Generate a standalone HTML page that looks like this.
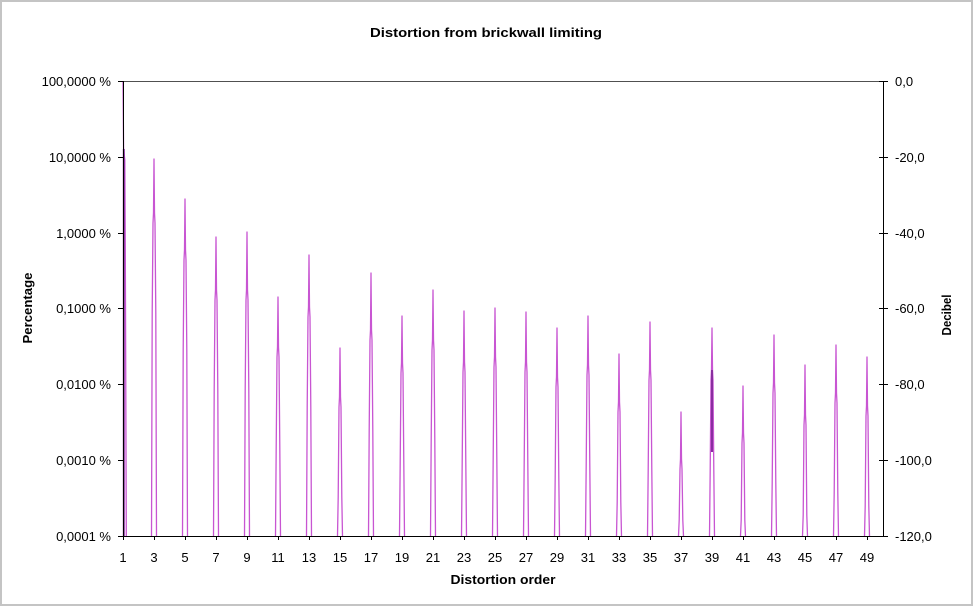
<!DOCTYPE html>
<html>
<head>
<meta charset="utf-8">
<style>
  html,body{margin:0;padding:0;background:#fff;}
  svg{display:block;}
  text{font-family:"Liberation Sans",Arial,sans-serif;fill:#000;}
  .t{font-size:13px;}
  .b{font-weight:bold;font-size:12.5px;}
</style>
</head>
<body>
<svg width="975" height="607" viewBox="0 0 975 607" xmlns="http://www.w3.org/2000/svg">
  <rect x="0" y="0" width="975" height="607" fill="#fff"/>
  <rect x="1" y="1" width="971" height="604" fill="none" stroke="#c4c4c4" stroke-width="2"/>

  <text class="b" x="486" y="37" text-anchor="middle" textLength="232" lengthAdjust="spacingAndGlyphs">Distortion from brickwall limiting</text>

  <line x1="123" y1="81.5" x2="883" y2="81.5" stroke="#505050" stroke-width="1"/>

  <g fill="none" stroke="#c855d2" stroke-width="1.3" stroke-linejoin="round">
    <path d="M123 81 L123.6 149 L124.8 160 L125.3 250 L126.3 536"/>
    <path d="M151.5 536 L152.2 313 L153 223 L153.5 213 L154 159 L154.5 213 L155 223 L155.8 313 L156.5 536"/>
    <path d="M182.5 536 L183.2 350 L184 260 L184.5 250 L185 199 L185.5 250 L186 260 L186.8 350 L187.5 536"/>
    <path d="M213.5 536 L214.2 390 L215 300 L215.5 290 L216 237 L216.5 290 L217 300 L217.8 390 L218.5 536"/>
    <path d="M244.5 536 L245.2 390 L246 300 L246.5 290 L247 232 L247.5 290 L248 300 L248.8 390 L249.5 536"/>
    <path d="M275.5 536 L276.2 447 L277 357 L277.5 347 L278 297 L278.5 347 L279 357 L279.8 447 L280.5 536"/>
    <path d="M306.5 536 L307.2 407 L308 317 L308.5 307 L309 255 L309.5 307 L310 317 L310.8 407 L311.5 536"/>
    <path d="M337.5 536 L338.2 497 L339 407 L339.5 397 L340 348 L340.5 397 L341 407 L341.8 497 L342.5 536"/>
    <path d="M368.5 536 L369.2 430 L370 340 L370.5 330 L371 273 L371.5 330 L372 340 L372.8 430 L373.5 536"/>
    <path d="M399.5 536 L400.2 463 L401 373 L401.5 363 L402 316 L402.5 363 L403 373 L403.8 463 L404.5 536"/>
    <path d="M430.5 536 L431.2 440 L432 350 L432.5 340 L433 290 L433.5 340 L434 350 L434.8 440 L435.5 536"/>
    <path d="M461.5 536 L462.2 462 L463 372 L463.5 362 L464 311 L464.5 362 L465 372 L465.8 462 L466.5 536"/>
    <path d="M492.5 536 L493.2 457 L494 367 L494.5 357 L495 308 L495.5 357 L496 367 L496.8 457 L497.5 536"/>
    <path d="M523.5 536 L524.2 462 L525 372 L525.5 362 L526 312 L526.5 362 L527 372 L527.8 462 L528.5 536"/>
    <path d="M554.5 536 L555.2 477 L556 387 L556.5 377 L557 328 L557.5 377 L558 387 L558.8 477 L559.5 536"/>
    <path d="M585.5 536 L586.2 465 L587 375 L587.5 365 L588 316 L588.5 365 L589 375 L589.8 465 L590.5 536"/>
    <path d="M616.5 536 L617.2 502 L618 412 L618.5 402 L619 354 L619.5 402 L620 412 L620.8 502 L621.5 536"/>
    <path d="M647.5 536 L648.2 470 L649 380 L649.5 370 L650 322 L650.5 370 L651 380 L651.8 470 L652.5 536"/>
    <path d="M678.5 536 L679.2 520 L680 469 L680.5 459 L681 412 L681.5 459 L682 469 L682.8 520 L683.5 536"/>
    <path d="M709.5 536 L710.2 470 L711 380 L711.5 370 L712 328 L712.5 370 L713 380 L713.8 470 L714.5 536"/>
    <path d="M740.5 536 L741.2 520 L742 443 L742.5 433 L743 386 L743.5 433 L744 443 L744.8 520 L745.5 536"/>
    <path d="M771.5 536 L772.2 483 L773 393 L773.5 383 L774 335 L774.5 383 L775 393 L775.8 483 L776.5 536"/>
    <path d="M802.5 536 L803.2 515 L804 425 L804.5 415 L805 365 L805.5 415 L806 425 L806.8 515 L807.5 536"/>
    <path d="M833.5 536 L834.2 493 L835 403 L835.5 393 L836 345 L836.5 393 L837 403 L837.8 493 L838.5 536"/>
    <path d="M864.5 536 L865.2 506 L866 416 L866.5 406 L867 357 L867.5 406 L868 416 L868.8 506 L869.5 536"/>
  </g>
  <g stroke="#8a2ea0" stroke-width="2" fill="none">
    <line x1="123.8" y1="149" x2="123.8" y2="536"/>
    <line x1="712" y1="370" x2="712" y2="452"/>
  </g>

  <g stroke="#000" stroke-width="1" fill="none">
    <line x1="123.5" y1="81" x2="123.5" y2="536"/>
    <line x1="883.5" y1="81" x2="883.5" y2="536"/>
    <line x1="123" y1="536.5" x2="884" y2="536.5"/>
    <line x1="118" y1="81.5" x2="123" y2="81.5"/>
    <line x1="118" y1="157.5" x2="123" y2="157.5"/>
    <line x1="118" y1="233.5" x2="123" y2="233.5"/>
    <line x1="118" y1="308.5" x2="123" y2="308.5"/>
    <line x1="118" y1="384.5" x2="123" y2="384.5"/>
    <line x1="118" y1="460.5" x2="123" y2="460.5"/>
    <line x1="118" y1="536.5" x2="123" y2="536.5"/>
    <line x1="879" y1="81.5" x2="888" y2="81.5"/>
    <line x1="879" y1="157.5" x2="888" y2="157.5"/>
    <line x1="879" y1="233.5" x2="888" y2="233.5"/>
    <line x1="879" y1="308.5" x2="888" y2="308.5"/>
    <line x1="879" y1="384.5" x2="888" y2="384.5"/>
    <line x1="879" y1="460.5" x2="888" y2="460.5"/>
    <line x1="879" y1="536.5" x2="888" y2="536.5"/>
    <path d="M123.5 536v4 M154.5 536v4 M185.5 536v4 M216.5 536v4 M247.5 536v4 M278.5 536v4 M309.5 536v4 M340.5 536v4 M371.5 536v4 M402.5 536v4 M433.5 536v4 M464.5 536v4 M495.5 536v4 M526.5 536v4 M557.5 536v4 M588.5 536v4 M619.5 536v4 M650.5 536v4 M681.5 536v4 M712.5 536v4 M743.5 536v4 M774.5 536v4 M805.5 536v4 M836.5 536v4 M867.5 536v4"/>
  </g>

  <g text-anchor="end">
    <text class="t" x="111" y="86">100,0000 %</text>
    <text class="t" x="111" y="162">10,0000 %</text>
    <text class="t" x="111" y="238">1,0000 %</text>
    <text class="t" x="111" y="313">0,1000 %</text>
    <text class="t" x="111" y="389">0,0100 %</text>
    <text class="t" x="111" y="465">0,0010 %</text>
    <text class="t" x="111" y="541">0,0001 %</text>
  </g>
  <g>
    <text class="t" x="895" y="86">0,0</text>
    <text class="t" x="895" y="162">-20,0</text>
    <text class="t" x="895" y="238">-40,0</text>
    <text class="t" x="895" y="313">-60,0</text>
    <text class="t" x="895" y="389">-80,0</text>
    <text class="t" x="895" y="465">-100,0</text>
    <text class="t" x="895" y="541">-120,0</text>
  </g>
  <g text-anchor="middle">
    <text class="t" x="123" y="562">1</text>
    <text class="t" x="154" y="562">3</text>
    <text class="t" x="185" y="562">5</text>
    <text class="t" x="216" y="562">7</text>
    <text class="t" x="247" y="562">9</text>
    <text class="t" x="278" y="562">11</text>
    <text class="t" x="309" y="562">13</text>
    <text class="t" x="340" y="562">15</text>
    <text class="t" x="371" y="562">17</text>
    <text class="t" x="402" y="562">19</text>
    <text class="t" x="433" y="562">21</text>
    <text class="t" x="464" y="562">23</text>
    <text class="t" x="495" y="562">25</text>
    <text class="t" x="526" y="562">27</text>
    <text class="t" x="557" y="562">29</text>
    <text class="t" x="588" y="562">31</text>
    <text class="t" x="619" y="562">33</text>
    <text class="t" x="650" y="562">35</text>
    <text class="t" x="681" y="562">37</text>
    <text class="t" x="712" y="562">39</text>
    <text class="t" x="743" y="562">41</text>
    <text class="t" x="774" y="562">43</text>
    <text class="t" x="805" y="562">45</text>
    <text class="t" x="836" y="562">47</text>
    <text class="t" x="867" y="562">49</text>
  </g>

  <text class="b" x="503" y="584" text-anchor="middle" textLength="105" lengthAdjust="spacingAndGlyphs">Distortion order</text>
  <text class="b" transform="translate(32,308) rotate(-90)" text-anchor="middle" textLength="71" lengthAdjust="spacingAndGlyphs">Percentage</text>
  <text class="b" transform="translate(951,315) rotate(-90)" text-anchor="middle" textLength="41" lengthAdjust="spacingAndGlyphs">Decibel</text>
</svg>
</body>
</html>
